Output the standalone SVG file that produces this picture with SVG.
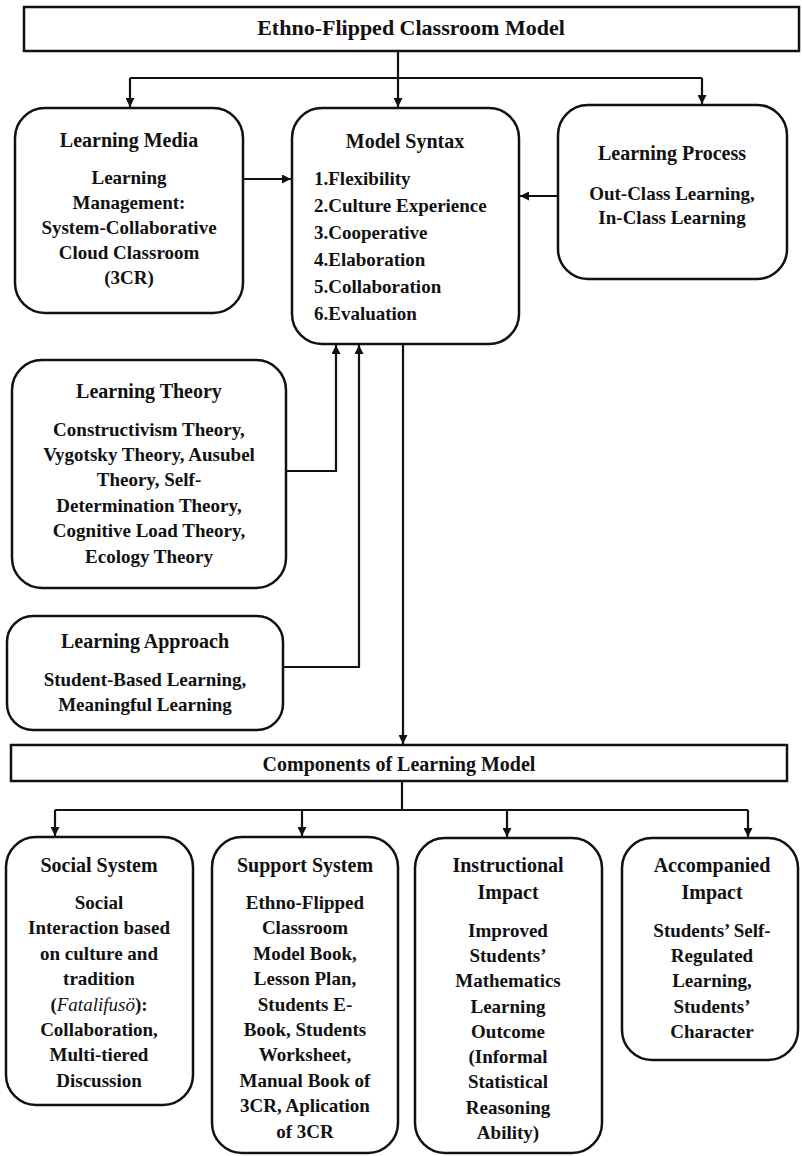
<svg xmlns="http://www.w3.org/2000/svg" width="802" height="1156" viewBox="0 0 802 1156">
<style>
.box{fill:#fff;stroke:#111;stroke-width:2.5}
.t{font-family:"Liberation Serif","Times New Roman",serif;font-weight:bold;fill:#111;text-anchor:middle}
.h{font-size:20px}
.b{font-size:19px}
.l{text-anchor:start}
.c{fill:none;stroke:#111;stroke-width:2.2}
</style>
<defs>
<marker id="ah" viewBox="0 0 10 10" refX="10" refY="5" markerWidth="10" markerHeight="9" markerUnits="userSpaceOnUse" orient="auto">
<path d="M0,0 L10,5 L0,10 z" fill="#111"/>
</marker>
</defs>
<rect width="802" height="1156" fill="#fff"/>

<g id="connectors">
<path class="c" d="M398,51 V107" marker-end="url(#ah)"/>
<path class="c" d="M130,78 H702"/>
<path class="c" d="M130,78 V107" marker-end="url(#ah)"/>
<path class="c" d="M702,78 V104" marker-end="url(#ah)"/>
<path class="c" d="M243,179 H291" marker-end="url(#ah)"/>
<path class="c" d="M558,196 H520" marker-end="url(#ah)"/>
<path class="c" d="M286,471 H336 V345" marker-end="url(#ah)"/>
<path class="c" d="M283,667 H359 V345" marker-end="url(#ah)"/>
<path class="c" d="M403,344 V744" marker-end="url(#ah)"/>
<path class="c" d="M402,781 V810"/>
<path class="c" d="M55,810 H748"/>
<path class="c" d="M55,810 V836" marker-end="url(#ah)"/>
<path class="c" d="M302,810 V836" marker-end="url(#ah)"/>
<path class="c" d="M507,810 V837" marker-end="url(#ah)"/>
<path class="c" d="M748,810 V837" marker-end="url(#ah)"/>
</g>

<g id="ethno-flipped-model">
<rect class="box" x="24" y="7" width="775" height="44"/>
<text class="t" x="411" y="35" font-size="22">Ethno-Flipped Classroom Model</text>
</g>

<g id="learning-media">
<rect class="box" x="15" y="108" width="228" height="205" rx="30"/>
<text class="t h" x="129" y="147">Learning Media</text>
<text class="t b" x="129" y="184">Learning</text>
<text class="t b" x="129" y="209">Management:</text>
<text class="t b" x="129" y="234">System-Collaborative</text>
<text class="t b" x="129" y="259">Cloud Classroom</text>
<text class="t b" x="129" y="284">(3CR)</text>
</g>

<g id="model-syntax">
<rect class="box" x="292" y="108" width="227" height="236" rx="30"/>
<text class="t h" x="405" y="148">Model Syntax</text>
<text class="t b l" x="314" y="185">1.Flexibility</text>
<text class="t b l" x="314" y="212">2.Culture Experience</text>
<text class="t b l" x="314" y="239">3.Cooperative</text>
<text class="t b l" x="314" y="266">4.Elaboration</text>
<text class="t b l" x="314" y="293">5.Collaboration</text>
<text class="t b l" x="314" y="320">6.Evaluation</text>
</g>

<g id="learning-process">
<rect class="box" x="558" y="105" width="229" height="174" rx="30"/>
<text class="t h" x="672" y="160">Learning Process</text>
<text class="t b" x="672" y="200">Out-Class Learning,</text>
<text class="t b" x="672" y="224">In-Class Learning</text>
</g>

<g id="learning-theory">
<rect class="box" x="12" y="360" width="274" height="228" rx="30"/>
<text class="t h" x="149" y="398">Learning Theory</text>
<text class="t b" x="149" y="436">Constructivism Theory,</text>
<text class="t b" x="149" y="461">Vygotsky Theory, Ausubel</text>
<text class="t b" x="149" y="486">Theory, Self-</text>
<text class="t b" x="149" y="512">Determination Theory,</text>
<text class="t b" x="149" y="537">Cognitive Load Theory,</text>
<text class="t b" x="149" y="563">Ecology Theory</text>
</g>

<g id="learning-approach">
<rect class="box" x="7" y="616" width="276" height="114" rx="26"/>
<text class="t h" x="145" y="648">Learning Approach</text>
<text class="t b" x="145" y="686">Student-Based Learning,</text>
<text class="t b" x="145" y="711">Meaningful Learning</text>
</g>

<g id="components">
<rect class="box" x="11" y="745" width="776" height="36"/>
<text class="t" x="399" y="771" font-size="20">Components of Learning Model</text>
</g>

<g id="social-system">
<rect class="box" x="6" y="837" width="187" height="268" rx="30"/>
<text class="t h" x="99" y="872">Social System</text>
<text class="t b" x="99" y="909">Social</text>
<text class="t b" x="99" y="934">Interaction based</text>
<text class="t b" x="99" y="960">on culture and</text>
<text class="t b" x="99" y="985">tradition</text>
<text class="t b" x="99" y="1011">(<tspan font-style="italic" font-weight="normal">Fatalifusö</tspan>):</text>
<text class="t b" x="99" y="1036">Collaboration,</text>
<text class="t b" x="99" y="1061">Multi-tiered</text>
<text class="t b" x="99" y="1087">Discussion</text>
</g>

<g id="support-system">
<rect class="box" x="212" y="837" width="186" height="316" rx="30"/>
<text class="t h" x="305" y="872">Support System</text>
<text class="t b" x="305" y="909">Ethno-Flipped</text>
<text class="t b" x="305" y="934">Classroom</text>
<text class="t b" x="305" y="960">Model Book,</text>
<text class="t b" x="305" y="985">Lesson Plan,</text>
<text class="t b" x="305" y="1011">Students E-</text>
<text class="t b" x="305" y="1036">Book, Students</text>
<text class="t b" x="305" y="1061">Worksheet,</text>
<text class="t b" x="305" y="1087">Manual Book of</text>
<text class="t b" x="305" y="1112">3CR, Aplication</text>
<text class="t b" x="305" y="1138">of 3CR</text>
</g>

<g id="instructional-impact">
<rect class="box" x="415" y="838" width="187" height="315" rx="30"/>
<text class="t h" x="508" y="872">Instructional</text>
<text class="t h" x="508" y="899">Impact</text>
<text class="t b" x="508" y="937">Improved</text>
<text class="t b" x="508" y="962">Students’</text>
<text class="t b" x="508" y="987">Mathematics</text>
<text class="t b" x="508" y="1013">Learning</text>
<text class="t b" x="508" y="1038">Outcome</text>
<text class="t b" x="508" y="1063">(Informal</text>
<text class="t b" x="508" y="1088">Statistical</text>
<text class="t b" x="508" y="1114">Reasoning</text>
<text class="t b" x="508" y="1139">Ability)</text>
</g>

<g id="accompanied-impact">
<rect class="box" x="622" y="838" width="176" height="222" rx="30"/>
<text class="t h" x="712" y="872">Accompanied</text>
<text class="t h" x="712" y="899">Impact</text>
<text class="t b" x="712" y="937">Students’ Self-</text>
<text class="t b" x="712" y="962">Regulated</text>
<text class="t b" x="712" y="987">Learning,</text>
<text class="t b" x="712" y="1013">Students’</text>
<text class="t b" x="712" y="1038">Character</text>
</g>
</svg>
